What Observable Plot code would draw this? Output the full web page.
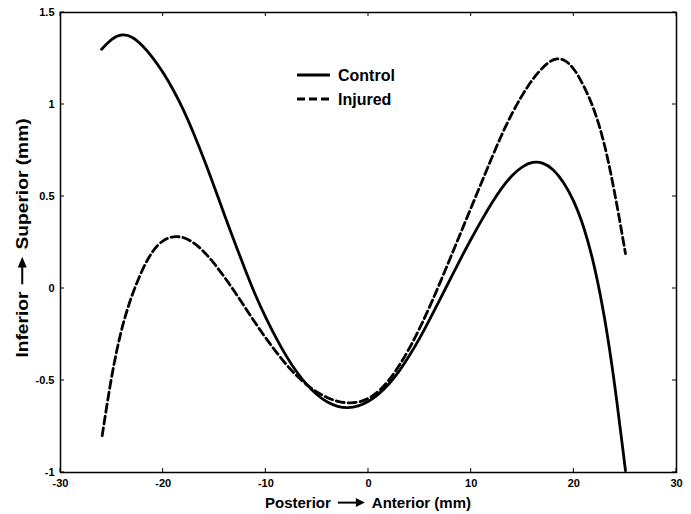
<!DOCTYPE html>
<html><head><meta charset="utf-8">
<script src="https://cdn.jsdelivr.net/npm/d3@7"></script>
<script src="https://cdn.jsdelivr.net/npm/@observablehq/plot@0.6"></script>
<style>body{margin:0;background:#fff}#c{width:691px;height:514px}</style>
</head><body><div id="c"></div>
<script>
const controlX = [-26.0,-25.0,-24.0,-23.0,-22.0,-21.0,-20.0,-19.0,-18.0,-17.0,-16.0,-15.0,-14.0,-13.0,-12.0,-11.0,-10.0,-9.0,-8.0,-7.0,-6.0,-5.0,-4.0,-3.0,-2.0,-1.0,0.0,1.0,2.0,3.0,4.0,5.0,6.0,7.0,8.0,9.0,10.0,11.0,12.0,13.0,14.0,15.0,16.0,17.0,18.0,19.0,20.0,21.0,22.0,23.0,24.0,25.03];
const controlY = [1.30,1.36,1.385,1.37,1.32,1.255,1.175,1.08,0.97,0.84,0.70,0.55,0.395,0.245,0.10,-0.04,-0.16,-0.27,-0.37,-0.455,-0.525,-0.58,-0.62,-0.643,-0.65,-0.64,-0.615,-0.575,-0.52,-0.45,-0.365,-0.27,-0.165,-0.055,0.055,0.165,0.27,0.37,0.465,0.55,0.618,0.665,0.69,0.685,0.65,0.58,0.48,0.335,0.13,-0.15,-0.52,-0.99];
const injuredX = [-25.94,-25.5,-25.0,-24.5,-24.0,-23.5,-23.0,-22.0,-21.0,-20.0,-19.0,-18.0,-17.0,-16.0,-15.0,-14.0,-13.0,-12.0,-11.0,-10.0,-9.0,-8.0,-7.0,-6.0,-5.0,-4.0,-3.0,-2.0,-1.0,0.0,1.0,2.0,3.0,4.0,5.0,6.0,7.0,8.0,9.0,10.0,11.0,12.0,13.0,14.0,15.0,16.0,17.0,18.0,19.0,20.0,21.0,22.0,23.0,24.0,25.03];
const injuredY = [-0.80,-0.64,-0.47,-0.33,-0.21,-0.115,-0.03,0.11,0.21,0.265,0.285,0.28,0.25,0.2,0.135,0.06,-0.02,-0.105,-0.19,-0.27,-0.345,-0.415,-0.475,-0.525,-0.565,-0.595,-0.615,-0.623,-0.62,-0.6,-0.56,-0.5,-0.42,-0.325,-0.215,-0.095,0.035,0.17,0.305,0.44,0.575,0.71,0.84,0.955,1.055,1.14,1.205,1.25,1.25,1.2,1.1,0.975,0.79,0.52,0.19];
const xTicks = [-30,-20,-10,0,10,20,30];
const yTicks = [-1,-0.5,0,0.5,1,1.5];
const seriesNames = ["Control","Injured"];
const xLabelParts = ["Posterior","Anterior (mm)"];
const yLabelParts = ["Inferior","Superior (mm)"];

const control = controlX.map((x,i)=>({x, y: controlY[i]}));
const injured = injuredX.map((x,i)=>({x, y: injuredY[i]}));

const font = "'Liberation Sans', Arial, Helvetica, sans-serif";
const chart = Plot.plot({
  width: 691, height: 514,
  marginLeft: 60, marginRight: 15, marginTop: 12, marginBottom: 42,
  style: {fontFamily: font, fontWeight: "bold", fontSize: "11px", color: "#000", background: "#fff"},
  x: {domain: [-30, 30]},
  y: {domain: [-1, 1.5]},
  marks: [
    Plot.axisX(xTicks, {tickSize: 0, tickPadding: 7, label: null, tickFormat: d => String(d)}),
    Plot.axisY(yTicks, {tickSize: 0, tickPadding: 6, label: null, tickFormat: d => String(d)}),
    Plot.line(control, {x: "x", y: "y", stroke: "#000", strokeWidth: 2.8, curve: "basis"}),
    Plot.line(injured, {x: "x", y: "y", stroke: "#000", strokeWidth: 2.8, strokeDasharray: "8,4", curve: "basis"}),
    Plot.frame({stroke: "#000", strokeWidth: 1.5})
  ]
});
document.getElementById("c").appendChild(chart);

const svg = d3.select(chart);
const sx = chart.scale("x"), sy = chart.scale("y");
const [x0, x1] = sx.range, [y0, y1] = sy.range;
const tk = 4;
const tg = svg.append("g").attr("stroke", "#000").attr("stroke-width", 1);
for (const t of xTicks) {
  const px = sx.apply(t);
  tg.append("line").attr("x1", px).attr("x2", px).attr("y1", y0).attr("y2", y0 - tk);
  tg.append("line").attr("x1", px).attr("x2", px).attr("y1", y1).attr("y2", y1 + tk);
}
for (const t of yTicks) {
  const py = sy.apply(t);
  tg.append("line").attr("y1", py).attr("y2", py).attr("x1", x0).attr("x2", x0 + tk);
  tg.append("line").attr("y1", py).attr("y2", py).attr("x1", x1).attr("x2", x1 - tk);
}

function arrowLabel(g, parts, size, gap, arrowLen) {
  const mk = s => g.append("text").attr("font-size", size).attr("font-weight", "bold")
    .attr("font-family", font).attr("text-anchor", "start").attr("fill", "#000").text(s);
  const t1 = mk(parts[0]), t2 = mk(parts[1]);
  const w1 = t1.node().getComputedTextLength(), w2 = t2.node().getComputedTextLength();
  const total = w1 + gap + arrowLen + gap + w2;
  const s = -total / 2;
  t1.attr("x", s).attr("y", 0);
  const ax = s + w1 + gap, ay = -size * 0.36;
  g.append("line").attr("x1", ax).attr("x2", ax + arrowLen - 6).attr("y1", ay).attr("y2", ay).attr("stroke", "#000").attr("stroke-width", 2);
  g.append("path").attr("d", `M${ax + arrowLen},${ay} L${ax + arrowLen - 9},${ay - 4.5} L${ax + arrowLen - 9},${ay + 4.5} Z`).attr("fill", "#000");
  t2.attr("x", ax + arrowLen + gap).attr("y", 0);
}
arrowLabel(svg.append("g").attr("transform", "translate(368,508)"), xLabelParts, 15, 7, 27);
arrowLabel(svg.append("g").attr("transform", "translate(28,238) rotate(-90) scale(1.2,1)"), yLabelParts, 16, 6, 23);

const lg = svg.append("g").attr("font-family", font).attr("font-weight", "bold").attr("font-size", 16).attr("text-anchor", "start");
const legendRows = [{name: seriesNames[0], dash: null, y: 75}, {name: seriesNames[1], dash: "8,4", y: 99}];
for (const r of legendRows) {
  const l = lg.append("line").attr("x1", 297).attr("x2", 330).attr("y1", r.y).attr("y2", r.y).attr("stroke", "#000").attr("stroke-width", 2.8);
  if (r.dash) l.attr("stroke-dasharray", r.dash);
  lg.append("text").attr("x", 338).attr("y", r.y + 6).attr("fill", "#000").text(r.name);
}
</script></body></html>
